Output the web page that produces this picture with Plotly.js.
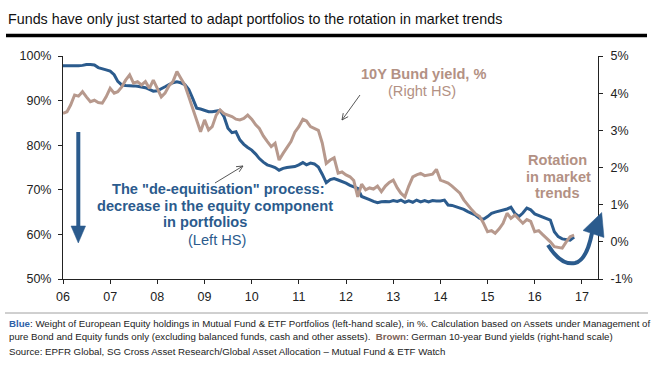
<!DOCTYPE html>
<html>
<head>
<meta charset="utf-8">
<script src="https://cdn.plot.ly/plotly-3.0.1.min.js"></script>
<style>html,body{margin:0;padding:0;background:#fff;}#chart{width:666px;height:370px;}</style>
</head>
<body>
<div id="chart"></div>
<script>
// ---- data (monthly, starting Jan 2006) ----
const startYear = 2006;
// Weight of European equity holdings, % (left axis)
const equityWeight = [
  97.8, 97.8, 97.7, 97.8, 97.8, 97.9, 98.1, 98.1, 98.0, 97.4, 97.2, 96.9,
  96.6, 95.8, 94.3, 93.5, 93.4, 93.4, 93.3, 93.2, 93.1, 92.9, 92.5, 92.1,
  92.2, 92.6, 93.1, 93.6, 94.0, 94.2, 94.0, 93.6, 92.5, 90.5, 88.3, 88.1,
  87.8, 87.5, 87.5, 87.6, 87.8, 86.4, 83.8, 82.8, 83.0, 81.2, 80.2, 79.5,
  78.9, 78.0, 77.0, 76.2, 75.6, 75.3, 75.0, 74.4, 74.8, 75.0, 75.1, 75.2,
  75.6, 76.1, 75.6, 76.0, 75.8, 75.1, 73.5, 71.6, 72.3, 72.5, 72.2, 71.9,
  71.5, 71.0, 70.7, 70.3, 68.5, 68.2, 67.8, 67.4, 67.1, 67.3, 67.4, 67.3,
  67.6, 67.4, 67.7, 67.2, 67.5, 67.2, 67.7, 67.3, 67.6, 67.3, 67.6, 67.5,
  67.5, 67.7, 66.6, 66.5, 66.2, 65.9, 65.6, 65.1, 64.7, 64.3, 63.6, 63.4,
  64.0, 64.7, 65.0, 65.2, 65.5, 65.7, 66.1, 64.7, 64.0, 64.8, 65.9, 65.5,
  64.6, 64.2, 64.0, 63.6, 63.2, 60.6, 59.5, 59.0, 58.8, 58.7, 59.4
];
// German 10Y Bund yield, % (right axis)
const bundYield = [
  3.46, 3.50, 3.68, 3.95, 3.92, 4.04, 3.90, 3.77, 3.81, 3.75, 3.73, 3.90,
  4.13, 4.00, 4.04, 4.17, 4.35, 4.49, 4.27, 4.31, 4.22, 4.31, 4.13, 4.35,
  4.13, 3.90, 4.00, 4.20, 4.31, 4.58, 4.40, 4.22, 3.90, 3.60, 3.30, 2.96,
  3.28, 3.01, 3.10, 3.41, 3.55, 3.45, 3.41, 3.37, 3.30, 3.28, 3.32, 3.41,
  3.30, 3.15, 3.05, 2.85, 2.70, 2.56, 2.65, 2.20, 2.38, 2.55, 2.70, 2.95,
  3.10, 3.30, 3.25, 3.10, 3.05, 3.00, 2.66, 2.11, 2.20, 2.26, 1.85, 1.88,
  1.80, 1.75, 1.65, 1.21, 1.55, 1.40, 1.45, 1.42, 1.50, 1.35, 1.50, 1.60,
  1.66, 1.45, 1.31, 1.21, 1.50, 1.75, 1.80, 1.84, 1.78, 1.80, 1.82, 1.95,
  1.66, 1.62, 1.58, 1.50, 1.40, 1.31, 1.13, 0.99, 0.86, 0.75, 0.68, 0.50,
  0.27, 0.30, 0.23, 0.35, 0.50, 0.77, 0.63, 0.72, 0.62, 0.50, 0.60, 0.55,
  0.27, 0.30, 0.20, 0.10, 0.00, -0.13, -0.15, -0.17, 0.00, 0.14, 0.18
];
const xTickVals = ['2006-01-01','2007-01-01','2008-01-01','2009-01-01','2010-01-01','2011-01-01',
                   '2012-01-01','2013-01-01','2014-01-01','2015-01-01','2016-01-01','2017-01-01'];
const xTickText = ['06','07','08','09','10','11','12','13','14','15','16','17'];
const leftTickVals = [50, 60, 70, 80, 90, 100];
const leftTickText = ['50%','60%','70%','80%','90%','100%'];
const rightTickVals = [-1, 0, 1, 2, 3, 4, 5];
const rightTickText = ['-1%','0%','1%','2%','3%','4%','5%'];

const months = [];
for (let i = 0; i < Math.max(equityWeight.length, bundYield.length); i++) {
  const y = startYear + Math.floor(i / 12), m = (i % 12) + 1;
  months.push(y + '-' + String(m).padStart(2, '0') + '-01');
}

// ---- styling / layout ----
const BLUE = '#2b5b8d', BROWN = '#b7998d', BROWN_TXT = '#b39184', FONT = 'Liberation Sans, Arial, sans-serif';
const W = 666, H = 370, L = 63, R = 598, T = 56, B = 279;
const px = x => (x - L) / (R - L);
const py = y => (B - y) / (B - T);

function pt(x, y) { return px(x).toFixed(4) + ',' + py(y).toFixed(4); }
function thinArrow(x0, y0, x1, y1) {
  const a = Math.atan2(y1 - y0, x1 - x0), len = 7, sp = 0.45;
  const l1 = [x1 - len * Math.cos(a - sp), y1 - len * Math.sin(a - sp)];
  const l2 = [x1 - len * Math.cos(a + sp), y1 - len * Math.sin(a + sp)];
  return {type: 'path', xref: 'paper', yref: 'paper', line: {color: '#444', width: 0.9},
    path: 'M' + pt(x0, y0) + 'L' + pt(x1, y1) + 'M' + pt(l1[0], l1[1]) + 'L' + pt(x1, y1) + 'L' + pt(l2[0], l2[1])};
}

const shapes = [
  // title underline
  {type: 'line', xref: 'paper', yref: 'paper', x0: px(6), x1: px(647), y0: py(35.5), y1: py(35.5), line: {color: '#000', width: 3.5}},
  // footnote separator
  {type: 'line', xref: 'paper', yref: 'paper', x0: px(5), x1: px(648), y0: py(313), y1: py(313), line: {color: '#888', width: 0.8}},
  // big down arrow
  {type: 'line', xref: 'paper', yref: 'paper', x0: px(78.3), x1: px(78.3), y0: py(132), y1: py(229), line: {color: BLUE, width: 4}},
  {type: 'path', xref: 'paper', yref: 'paper', path: 'M' + pt(71, 226) + 'L' + pt(85.6, 226) + 'L' + pt(78.3, 243) + 'Z', fillcolor: BLUE, line: {color: BLUE, width: 0.5}},
  // curved rotation arrow
  {type: 'path', xref: 'paper', yref: 'paper', line: {color: BLUE, width: 4},
    path: 'M' + pt(548, 245) + 'C' + pt(556, 258) + ' ' + pt(565, 265) + ' ' + pt(575, 263) + 'C' + pt(584, 261) + ' ' + pt(589, 248) + ' ' + pt(592, 233)},
  {type: 'path', xref: 'paper', yref: 'paper', path: 'M' + pt(601.7, 212.5) + 'L' + pt(583, 230.5) + 'L' + pt(604, 237.5) + 'Z', fillcolor: BLUE, line: {color: BLUE, width: 0.5}},
  // thin pointer arrows
  thinArrow(215, 183, 243, 166),
  thinArrow(360, 95, 342, 120)
];

function txt(x, y, text, opts) {
  return Object.assign({xref: 'paper', yref: 'paper', x: px(x), y: py(y), text: text, showarrow: false,
    xanchor: 'center', yanchor: 'middle', font: {family: FONT, size: 14.6, color: BLUE}}, opts || {});
}
const footFont = {family: FONT, size: 9.7, color: '#222'};
const brownFont = {family: FONT, size: 14.6, color: BROWN_TXT};
const annotations = [
  txt(218, 188.5, '<b>The "de-equitisation" process:</b>'),
  txt(215, 205.5, '<b>decrease in the equity component</b>'),
  txt(205, 222, '<b>in portfolios</b>'),
  txt(217, 240, '(Left HS)'),
  txt(423, 74, '<b>10Y Bund yield, %</b>', {font: brownFont}),
  txt(422, 91, '(Right HS)', {font: brownFont}),
  txt(557, 160, '<b>Rotation</b>', {font: brownFont}),
  txt(558, 176.5, '<b>in market</b>', {font: brownFont}),
  txt(557, 193, '<b>trends</b>', {font: brownFont}),
  txt(7, 323, '<b><span style="color:#2f62a8">Blue</span></b>: Weight of European Equity holdings in Mutual Fund &amp; ETF Portfolios (left-hand scale), in %. Calculation based on Assets under Management of',
      {xanchor: 'left', align: 'left', font: footFont}),
  txt(7, 337, 'pure Bond and Equity funds only (excluding balanced funds, cash and other assets).  <b><span style="color:#7d6256">Brown</span></b>: German 10-year Bund yields (right-hand scale)',
      {xanchor: 'left', align: 'left', font: footFont}),
  txt(7, 351, 'Source: EPFR Global, SG Cross Asset Research/Global Asset Allocation \u2013 Mutual Fund &amp; ETF Watch',
      {xanchor: 'left', align: 'left', font: footFont})
];

const traces = [
  {x: months.slice(0, bundYield.length), y: bundYield, yaxis: 'y2', type: 'scatter', mode: 'lines',
   line: {color: BROWN, width: 3}, hoverinfo: 'skip'},
  {x: months.slice(0, equityWeight.length), y: equityWeight, yaxis: 'y', type: 'scatter', mode: 'lines',
   line: {color: BLUE, width: 3}, hoverinfo: 'skip'}
];

const axisCommon = {showgrid: false, zeroline: false, showline: true, linecolor: '#222', linewidth: 1,
  ticks: 'outside', ticklen: 4, tickcolor: '#222', tickwidth: 1, tickfont: {family: FONT, size: 12.5, color: '#222'}};

const layout = {
  width: W, height: H,
  margin: {l: L, r: W - R, t: T, b: H - B, pad: 0},
  paper_bgcolor: '#fff', plot_bgcolor: '#fff',
  showlegend: false,
  font: {family: FONT},
  title: {text: 'Funds have only just started to adapt portfolios to the rotation in market trends',
    font: {family: FONT, size: 14.3, color: '#111'}, x: 8 / W, xanchor: 'left', xref: 'container',
    y: 1 - 19 / H, yanchor: 'middle', yref: 'container'},
  xaxis: Object.assign({}, axisCommon, {type: 'date', range: ['2006-01-01', '2017-05-05'],
    tickmode: 'array', tickvals: xTickVals, ticktext: xTickText, ticklabelstandoff: 2}),
  yaxis: Object.assign({}, axisCommon, {range: [50, 100], tickmode: 'array', tickvals: leftTickVals, ticktext: leftTickText, ticklabelstandoff: 4}),
  yaxis2: Object.assign({}, axisCommon, {overlaying: 'y', side: 'right', range: [-1, 5], tickmode: 'array',
    tickvals: rightTickVals, ticktext: rightTickText, ticklabelstandoff: 5}),
  shapes: shapes,
  annotations: annotations
};

Plotly.newPlot('chart', traces, layout, {staticPlot: true, displayModeBar: false});
</script>
</body>
</html>
